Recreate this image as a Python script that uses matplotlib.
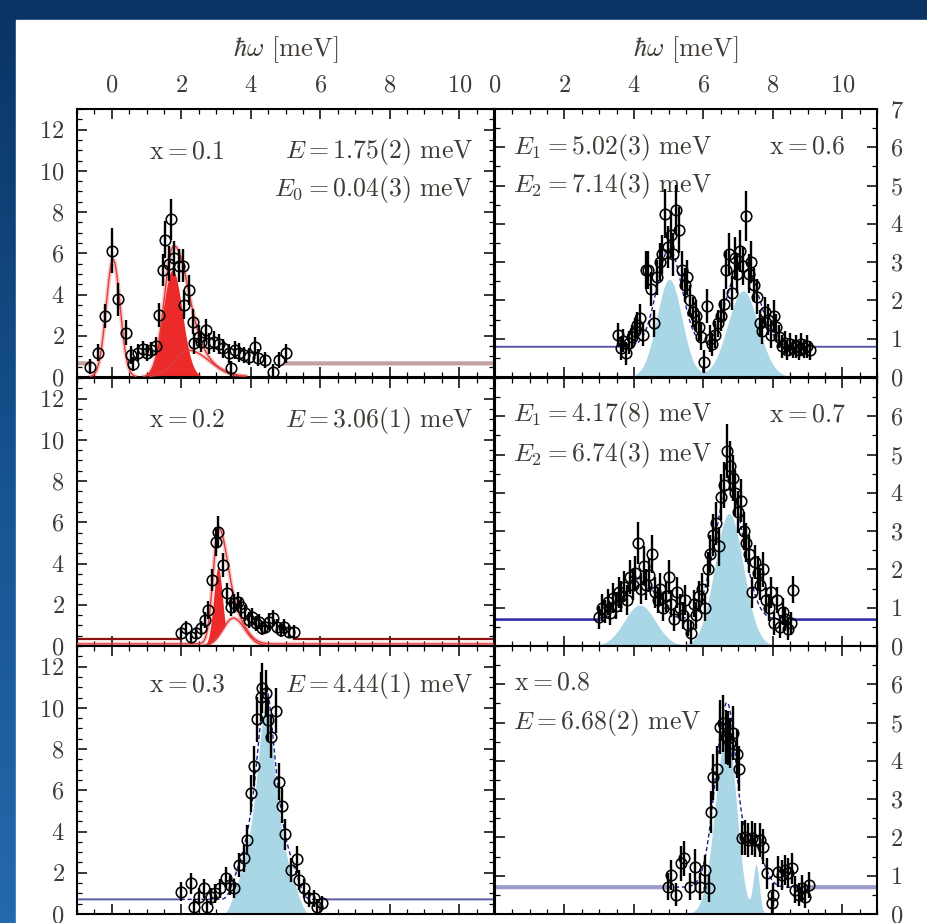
import numpy as np
import matplotlib
matplotlib.use("Agg")
import matplotlib.pyplot as plt
from matplotlib.ticker import MultipleLocator
from matplotlib.patches import Rectangle
from matplotlib.colors import LinearSegmentedColormap

plt.rcParams['font.family'] = 'cmr10'
plt.rcParams['mathtext.fontset'] = 'cm'
plt.rcParams['axes.formatter.use_mathtext'] = True

# ---------------- measured spectra: energy transfer, intensity, error ----------------
tl_E = [-0.63, -0.40, -0.19, 0.01, 0.19, 0.41, 0.55, 0.62, 0.75, 0.89, 1.01, 1.13, 1.27, 1.37,
        1.48, 1.54, 1.64, 1.71, 1.80, 1.94, 2.06, 2.09, 2.23, 2.35, 2.38, 2.50, 2.57, 2.71,
        2.81, 2.95, 3.08, 3.19, 3.37, 3.43, 3.56, 3.67, 3.81, 3.96, 4.13, 4.20, 4.42, 4.65,
        4.82, 5.01]
tl_I = [0.50, 1.18, 2.96, 6.13, 3.77, 2.15, 1.07, 0.63, 1.18, 1.34, 1.18, 1.31, 1.50, 3.01,
        5.19, 6.65, 5.50, 7.65, 5.76, 5.39, 5.39, 3.50, 4.22, 2.69, 1.63, 1.96, 1.71, 2.28,
        1.63, 1.71, 1.60, 1.39, 1.15, 0.42, 1.31, 1.18, 1.07, 0.99, 1.47, 0.94, 0.83, 0.26,
        0.83, 1.15]
tl_err = [0.35, 0.40, 0.60, 1.10, 0.80, 0.60, 0.45, 0.35, 0.40, 0.40, 0.40, 0.40, 0.45, 0.60,
          0.80, 0.90, 0.85, 1.00, 0.85, 0.80, 0.80, 0.70, 0.75, 0.60, 0.50, 0.55, 0.50, 0.55,
          0.50, 0.50, 0.50, 0.45, 0.45, 0.35, 0.45, 0.45, 0.40, 0.40, 0.45, 0.40, 0.40, 0.35,
          0.40, 0.45]

ml_E = [1.98, 2.13, 2.27, 2.42, 2.56, 2.68, 2.78, 2.89, 2.99, 3.07, 3.20, 3.33, 3.42, 3.52,
        3.62, 3.71, 3.83, 3.95, 4.04, 4.14, 4.23, 4.33, 4.42, 4.52, 4.64, 4.76, 4.88, 4.97,
        5.10, 5.24]
ml_I = [0.62, 0.86, 0.45, 0.62, 0.86, 1.26, 1.75, 3.20, 5.06, 5.55, 3.93, 2.56, 1.91, 2.07,
        2.15, 1.91, 1.59, 1.26, 1.42, 1.10, 1.18, 0.86, 0.94, 1.18, 1.34, 0.94, 0.78, 0.94,
        0.70, 0.70]
ml_err = [0.30, 0.35, 0.30, 0.30, 0.35, 0.40, 0.45, 0.55, 0.70, 0.75, 0.60, 0.50, 0.45, 0.45,
          0.45, 0.45, 0.40, 0.40, 0.40, 0.35, 0.35, 0.35, 0.35, 0.40, 0.40, 0.35, 0.35, 0.35,
          0.30, 0.30]

bl_E = [1.98, 2.27, 2.37, 2.51, 2.65, 2.75, 2.85, 2.97, 3.11, 3.28, 3.39, 3.52, 3.66, 3.81,
        3.90, 4.02, 4.09, 4.19, 4.29, 4.31, 4.43, 4.51, 4.57, 4.72, 4.81, 4.91, 4.99, 5.15,
        5.32, 5.39, 5.53, 5.68, 5.82, 5.92, 6.04]
bl_I = [1.08, 1.49, 0.36, 0.84, 1.25, 0.36, 0.84, 1.00, 1.25, 1.73, 1.41, 1.25, 2.38, 2.70,
        3.59, 5.86, 7.18, 9.45, 10.55, 10.96, 10.71, 9.42, 8.61, 9.87, 6.42, 5.26, 3.87, 2.14,
        2.65, 1.65, 1.25, 0.76, 0.76, 0.36, 0.52]
bl_err = [0.45, 0.50, 0.35, 0.40, 0.45, 0.35, 0.40, 0.45, 0.45, 0.55, 0.50, 0.45, 0.60, 0.65,
          0.75, 0.90, 0.95, 1.10, 1.20, 1.20, 1.15, 1.10, 1.05, 1.10, 0.90, 0.85, 0.75, 0.60,
          0.65, 0.50, 0.45, 0.40, 0.40, 0.35, 0.35]

tr_E = [3.54, 3.62, 3.70, 3.78, 3.86, 3.94, 4.02, 4.10, 4.18, 4.26, 4.34, 4.42, 4.50, 4.58,
        4.66, 4.74, 4.82, 4.90, 4.98, 5.06, 5.14, 5.22, 5.30, 5.38, 5.46, 5.54, 5.62, 5.70,
        5.78, 5.86, 5.94, 6.02, 6.10, 6.18, 6.26, 6.34, 6.42, 6.50, 6.58, 6.66, 6.74, 6.82,
        6.90, 6.98, 7.06, 7.14, 7.22, 7.30, 7.38, 7.46, 7.54, 7.62, 7.70, 7.78, 7.86, 7.94,
        8.02, 8.10, 8.18, 8.26, 8.34, 8.42, 8.50, 8.58, 8.66, 8.74, 8.82, 8.90, 8.98, 9.06]
tr_I = [1.10, 0.75, 0.95, 0.62, 0.90, 1.05, 1.20, 1.35, 1.55, 1.10, 2.79, 2.79, 2.30, 1.40,
        2.60, 3.00, 3.20, 4.27, 3.40, 3.70, 3.20, 4.36, 3.85, 2.80, 2.40, 2.60, 2.00, 1.70,
        1.60, 1.30, 1.05, 0.40, 1.85, 1.00, 0.85, 1.10, 1.40, 1.60, 1.90, 2.80, 3.20, 2.20,
        3.10, 2.70, 3.30, 2.90, 4.20, 2.70, 3.00, 2.40, 2.10, 1.40, 1.20, 1.70, 1.50, 1.10,
        1.60, 1.30, 1.05, 0.80, 0.90, 0.70, 0.85, 0.75, 0.80, 0.70, 0.85, 0.75, 0.80, 0.70]
tr_err = [0.30, 0.30, 0.30, 0.30, 0.30, 0.30, 0.35, 0.35, 0.35, 0.30, 0.50, 0.50, 0.45, 0.35,
          0.45, 0.50, 0.50, 0.65, 0.55, 0.60, 0.55, 0.65, 0.60, 0.50, 0.45, 0.45, 0.40, 0.40,
          0.40, 0.35, 0.35, 0.30, 0.45, 0.35, 0.30, 0.35, 0.35, 0.40, 0.40, 0.50, 0.55, 0.45,
          0.55, 0.50, 0.55, 0.50, 0.65, 0.50, 0.55, 0.45, 0.45, 0.35, 0.35, 0.40, 0.40, 0.35,
          0.40, 0.35, 0.30, 0.30, 0.30, 0.25, 0.30, 0.25, 0.30, 0.25, 0.30, 0.25, 0.30, 0.25]

mr_E = [3.00, 3.08, 3.16, 3.24, 3.32, 3.40, 3.48, 3.56, 3.64, 3.72, 3.80, 3.88, 3.96, 4.04,
        4.12, 4.20, 4.28, 4.36, 4.44, 4.52, 4.60, 4.68, 4.76, 4.84, 4.92, 5.00, 5.08, 5.16,
        5.24, 5.32, 5.40, 5.48, 5.56, 5.64, 5.72, 5.80, 5.88, 5.96, 6.04, 6.12, 6.20, 6.28,
        6.36, 6.44, 6.52, 6.60, 6.68, 6.76, 6.84, 6.92, 7.00, 7.08, 7.16, 7.24, 7.32, 7.40,
        7.48, 7.56, 7.64, 7.72, 7.80, 7.88, 7.96, 8.04, 8.12, 8.20, 8.28, 8.36, 8.44, 8.52,
        8.59]
mr_I = [0.75, 1.00, 0.90, 1.15, 0.85, 1.25, 1.05, 1.40, 1.30, 1.55, 1.20, 1.80, 1.60, 1.90,
        2.70, 1.50, 2.10, 1.60, 1.85, 2.40, 1.40, 1.20, 1.50, 1.00, 1.30, 1.80, 1.10, 0.70,
        1.40, 1.00, 0.80, 1.20, 0.55, 0.35, 1.10, 0.80, 1.30, 1.50, 1.00, 2.00, 2.40, 2.90,
        3.20, 2.60, 3.90, 4.20, 5.10, 4.70, 4.40, 4.00, 3.50, 3.80, 3.00, 2.70, 2.40, 1.40,
        2.20, 1.90, 1.60, 2.00, 1.20, 1.00, 1.40, 0.60, 1.20, 0.50, 0.90, 0.70, 0.45, 0.60,
        1.47]
mr_err = [0.30, 0.35, 0.30, 0.35, 0.30, 0.40, 0.35, 0.40, 0.40, 0.40, 0.40, 0.45, 0.40, 0.45,
          0.55, 0.40, 0.50, 0.40, 0.45, 0.50, 0.40, 0.35, 0.40, 0.35, 0.40, 0.45, 0.35, 0.30,
          0.40, 0.35, 0.35, 0.40, 0.30, 0.30, 0.35, 0.35, 0.40, 0.40, 0.35, 0.45, 0.50, 0.55,
          0.55, 0.50, 0.60, 0.60, 0.70, 0.65, 0.60, 0.60, 0.55, 0.55, 0.50, 0.50, 0.50, 0.40,
          0.45, 0.45, 0.40, 0.45, 0.35, 0.35, 0.40, 0.30, 0.35, 0.30, 0.35, 0.30, 0.30, 0.30,
          0.35]

br_E = [4.98, 5.08, 5.22, 5.37, 5.43, 5.61, 5.75, 5.90, 6.04, 6.17, 6.23, 6.28, 6.40, 6.47,
        6.57, 6.65, 6.71, 6.78, 6.86, 6.96, 7.03, 7.10, 7.20, 7.29, 7.39, 7.49, 7.62, 7.73,
        7.83, 7.97, 8.01, 8.16, 8.26, 8.36, 8.45, 8.55, 8.64, 8.74, 8.83, 8.93, 9.03]
br_I = [0.71, 1.02, 0.50, 1.32, 1.45, 0.71, 1.24, 0.71, 1.15, 0.67, 2.67, 3.58, 3.80, 4.89,
        4.98, 4.63, 4.60, 4.46, 4.72, 4.19, 3.80, 1.98, 2.00, 1.93, 1.98, 1.93, 1.93, 1.76,
        1.06, 0.28, 0.50, 1.11, 1.02, 1.15, 1.07, 1.19, 0.63, 0.50, 0.67, 0.45, 0.76]
br_err = [0.35, 0.40, 0.30, 0.45, 0.45, 0.35, 0.45, 0.35, 0.40, 0.35, 0.55, 0.60, 0.60, 0.70,
          0.75, 0.70, 0.70, 0.65, 0.70, 0.65, 0.60, 0.45, 0.45, 0.45, 0.45, 0.45, 0.45, 0.45,
          0.40, 0.30, 0.30, 0.40, 0.40, 0.40, 0.40, 0.40, 0.35, 0.30, 0.35, 0.30, 0.35]

# ---------------- fitted mode energies (meV) and backgrounds ----------------
E0_x01, E_x01 = 0.04, 1.75
E_x02 = 3.06
E_x03 = 4.44
E1_x06, E2_x06 = 5.02, 7.14
E1_x07, E2_x07 = 4.17, 6.74
E_x08 = 6.68
bg_x01, bg_x02, bg_x03 = 0.66, 0.34, 0.71
bg_x06, bg_x07, bg_x08 = 0.79, 0.69, 0.70

TXT = '#3f3a34'
RED = '#ec2a2a'
RED_LINE = '#e23a3a'
BLUE_FILL = '#a9d7e5'
BLUE_DASH = '#1e1e8e'
FS_TICK = 17.5
FS_NOTE = 18.5


def gauss(E, c, a, s):
    return a * np.exp(-0.5 * ((E - c) / s) ** 2)


def agauss(E, c, a, sl, sr):
    s = np.where(E < c, sl, sr)
    return a * np.exp(-0.5 * ((E - c) / s) ** 2)


def wlorentz(E, c, a, w, r):
    return a / (1 + ((E - c) / w) ** 2) * np.exp(-((E - c) / r) ** 8)


fig = plt.figure(figsize=(9.27, 9.23), dpi=100)

# framing backdrop
bg_ax = fig.add_axes([0, 0, 1, 1], zorder=-10)
frame_cmap = LinearSegmentedColormap.from_list('frame', ['#0a3464', '#15528f', '#2469ad'])
bg_ax.imshow(np.linspace(0, 1, 256)[:, None], aspect='auto', cmap=frame_cmap,
             extent=[0, 1, 0, 1], origin='upper')
bg_ax.add_patch(Rectangle((16 / 927, 0), 1, 1 - 20 / 923, color='white',
                          transform=bg_ax.transAxes))
bg_ax.set_xlim(0, 1)
bg_ax.set_ylim(0, 1)
bg_ax.axis('off')

W, H = 927.0, 923.0
col_x = [(77 / W, 417 / W), (495 / W, 382 / W)]
row_y = [1 - 377 / H, 1 - 646 / H, 1 - 914 / H]
row_h = 268 / H

axes = {}
for r in range(3):
    for c in range(2):
        ax = fig.add_axes([col_x[c][0], row_y[r], col_x[c][1], row_h])
        axes[(r, c)] = ax
        if c == 0:
            ax.set_xlim(-1, 11)
            ax.set_ylim(0, 13)
            ax.yaxis.set_major_locator(MultipleLocator(2))
        else:
            ax.set_xlim(0, 11)
            ax.set_ylim(0, 7)
            ax.set_yticks(range(0, 8) if r == 0 else range(0, 7))
        ax.xaxis.set_major_locator(MultipleLocator(2))
        ax.xaxis.set_minor_locator(MultipleLocator(0.5))
        ax.yaxis.set_minor_locator(MultipleLocator(0.5))
        ax.tick_params(which='both', direction='in', top=True, bottom=True, left=True,
                       right=True, colors='black', labelcolor=TXT, labelsize=FS_TICK, pad=9)
        ax.tick_params(which='major', length=7, width=1.1)
        ax.tick_params(which='minor', length=3.5, width=0.9)
        ax.tick_params(labelbottom=False, labeltop=(r == 0),
                       labelleft=(c == 0), labelright=(c == 1))
        for sp in ax.spines.values():
            sp.set_linewidth(1.5)
        if r == 0:
            ax.xaxis.set_label_position('top')
            ax.set_xlabel(r'$\hbar\omega$ [meV]', fontsize=19, color=TXT, labelpad=13)

Eg = np.linspace(-1, 11, 2400)


def outside(E, data_E):
    return np.where((E < min(data_E)) | (E > max(data_E)), E, np.nan)


def inside(E, data_E):
    return np.where((E >= min(data_E)) & (E <= max(data_E)), E, np.nan)


def red_line(ax, x, y):
    ax.plot(x, y, color=RED_LINE, lw=3.2, alpha=0.25, zorder=3)
    ax.plot(x, y, color=RED_LINE, lw=1.0, zorder=3)


def data(ax, E, I, err):
    ax.errorbar(E, I, yerr=err, fmt='o', mfc='none', mec='black', ms=7.6, mew=1.15,
                ecolor='black', elinewidth=1.7, capsize=0, zorder=6)


def note(ax, x, y, s, ha):
    ax.text(x, y, s, transform=ax.transAxes, ha=ha, va='center', fontsize=FS_NOTE, color=TXT)


# ---- x = 0.1 ----
ax = axes[(0, 0)]
el = gauss(Eg, E0_x01, 5.7, 0.2)
fill_pk = gauss(Eg, E_x01, 5.2, 0.28)
broad = agauss(Eg, 2.2, 1.3, 0.4, 0.6)
tot_pk = agauss(Eg, E_x01, 5.6, 0.25, 0.4)
total = el + tot_pk + broad
ax.plot(outside(Eg, tl_E), np.full_like(Eg, bg_x01), color='#b58a8a', lw=3, alpha=0.8, zorder=2)
ax.fill_between(Eg, 0, fill_pk, color=RED, lw=0, zorder=2)
shown = np.where(total > 0.03, Eg, np.nan)
red_line(ax, np.where(broad > 0.03, Eg, np.nan), broad)
red_line(ax, shown, total)
data(ax, tl_E, tl_I, tl_err)
note(ax, 0.264, 0.84, r'$\mathrm{x} = 0.1$', 'center')
note(ax, 0.95, 0.84, r'$E = 1.75(2)$ meV', 'right')
note(ax, 0.95, 0.70, r'$E_0 = 0.04(3)$ meV', 'right')

# ---- x = 0.2 ----
ax = axes[(1, 0)]
fill_pk = gauss(Eg, E_x02, 3.8, 0.13)
broad = agauss(Eg, 3.5, 1.35, 0.3, 0.33)
tot_pk = agauss(Eg, E_x02, 5.1, 0.15, 0.25)
ax.plot(outside(Eg, ml_E), np.full_like(Eg, bg_x02), color='#8e1414', lw=1.6, zorder=2)
ax.fill_between(Eg, 0, fill_pk, color=RED, lw=0, zorder=2)
ax.fill_between(Eg, 0, broad, color='white', lw=0, zorder=2.5)
red_line(ax, np.where(broad > 0.03, Eg, np.nan), broad)
red_line(ax, Eg, tot_pk + broad + 0.1)
data(ax, ml_E, ml_I, ml_err)
note(ax, 0.264, 0.843, r'$\mathrm{x} = 0.2$', 'center')
note(ax, 0.95, 0.843, r'$E = 3.06(1)$ meV', 'right')

# ---- x = 0.3 ----
ax = axes[(2, 0)]
pk = wlorentz(Eg, E_x03, 10.2, 0.37, 1.05)
ax.plot(outside(Eg, bl_E), np.full_like(Eg, bg_x03), color='#5a5aa8', lw=1.4, zorder=2)
ax.fill_between(Eg, 0, pk, color=BLUE_FILL, lw=0, zorder=2)
ax.plot(inside(Eg, bl_E), bg_x03 + pk, color=BLUE_DASH, lw=1.0, ls=(0, (3, 2)), zorder=4)
data(ax, bl_E, bl_I, bl_err)
note(ax, 0.264, 0.854, r'$\mathrm{x} = 0.3$', 'center')
note(ax, 0.95, 0.854, r'$E = 4.44(1)$ meV', 'right')

# ---- x = 0.6 ----
ax = axes[(0, 1)]
p1 = gauss(Eg, E1_x06, 2.55, 0.36)
p2 = gauss(Eg, E2_x06, 2.25, 0.44)
ax.plot(outside(Eg, tr_E), np.full_like(Eg, bg_x06), color='#4d4da3', lw=1.3, zorder=2)
ax.fill_between(Eg, 0, p1 + p2, color=BLUE_FILL, lw=0, zorder=2)
ax.plot(inside(Eg, tr_E), bg_x06 + p1 + p2, color=BLUE_DASH, lw=1.0, ls=(0, (3, 2)), zorder=4)
data(ax, tr_E, tr_I, tr_err)
note(ax, 0.047, 0.858, r'$E_1 = 5.02(3)$ meV', 'left')
note(ax, 0.817, 0.858, r'$\mathrm{x} = 0.6$', 'center')
note(ax, 0.047, 0.716, r'$E_2 = 7.14(3)$ meV', 'left')

# ---- x = 0.7 ----
ax = axes[(1, 1)]
p1 = gauss(Eg, E1_x07, 1.07, 0.45)
p2 = gauss(Eg, E2_x07, 3.46, 0.41)
ax.plot(outside(Eg, mr_E), np.full_like(Eg, bg_x07), color='#2626a6', lw=1.8, zorder=2)
ax.fill_between(Eg, 0, p1 + p2, color=BLUE_FILL, lw=0, zorder=2)
ax.plot(inside(Eg, mr_E), bg_x07 + p1 + p2, color=BLUE_DASH, lw=1.0, ls=(0, (3, 2)), zorder=4)
data(ax, mr_E, mr_I, mr_err)
note(ax, 0.047, 0.862, r'$E_1 = 4.17(8)$ meV', 'left')
note(ax, 0.817, 0.862, r'$\mathrm{x} = 0.7$', 'center')
note(ax, 0.047, 0.713, r'$E_2 = 6.74(3)$ meV', 'left')

# ---- x = 0.8 ----
ax = axes[(2, 1)]
main = agauss(Eg, E_x08, 4.8, 0.33, 0.27)
spike = gauss(Eg, 7.52, 1.25, 0.09)
shoulder = gauss(Eg, 7.45, 1.1, 0.28)
ax.plot(outside(Eg, br_E), np.full_like(Eg, bg_x08), color='#9c9ccc', lw=3, zorder=2)
ax.fill_between(Eg, 0, main + spike, color=BLUE_FILL, lw=0, zorder=2)
ax.plot(inside(Eg, br_E), bg_x08 + main + shoulder, color=BLUE_DASH, lw=1.0,
        ls=(0, (3, 2)), zorder=4)
data(ax, br_E, br_I, br_err)
note(ax, 0.15, 0.862, r'$\mathrm{x} = 0.8$', 'center')
note(ax, 0.047, 0.713, r'$E = 6.68(2)$ meV', 'left')

fig.savefig('out.png', dpi=100)
